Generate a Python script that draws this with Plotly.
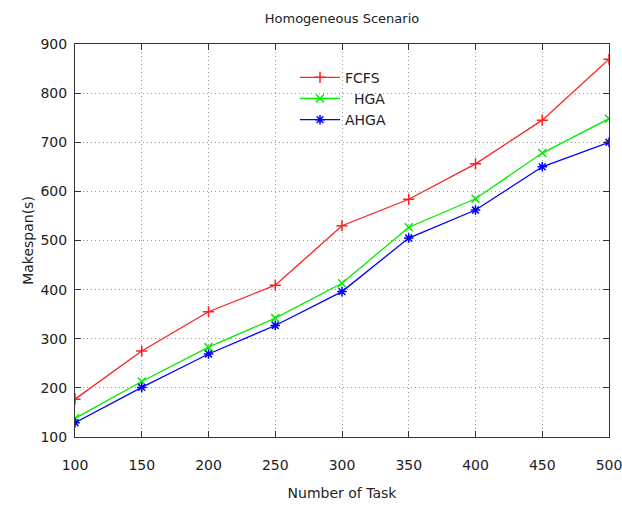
import plotly.graph_objects as go

tasks = [100, 150, 200, 250, 300, 350, 400, 450, 500]
fcfs = [177, 275, 355, 409, 530, 584, 656, 745, 869]
hga = [138, 213, 283, 342, 413, 527, 585, 678, 748]
ahga = [129, 201, 269, 327, 396, 505, 562, 650, 700]

font_family = "DejaVu Sans"

fig = go.Figure()
fig.add_trace(go.Scatter(x=tasks, y=fcfs, name="FCFS", mode="lines+markers",
                         line=dict(color="#ff2020", width=1.3),
                         marker=dict(symbol="cross-thin", size=8, line=dict(color="#ff2020", width=1.5))))
fig.add_trace(go.Scatter(x=tasks, y=hga, name="  HGA", mode="lines+markers",
                         line=dict(color="#00ee00", width=1.3),
                         marker=dict(symbol="x-thin", size=8, line=dict(color="#00ee00", width=1.5))))
fig.add_trace(go.Scatter(x=tasks, y=ahga, name="AHGA", mode="lines+markers",
                         line=dict(color="#0000ff", width=1.3),
                         marker=dict(symbol="asterisk-open", size=8, line=dict(color="#0000ff", width=1.5))))

axis_common = dict(showline=True, linecolor="#333333", linewidth=1, mirror="ticks",
                   ticks="inside", ticklen=6, tickcolor="#333333", automargin=False,
                   ticklabeloverflow="allow",
                   showgrid=True, gridcolor="#999999", griddash="1px,3px", gridwidth=1,
                   zeroline=False, tickfont=dict(family=font_family, size=14, color="#222222"))

fig.update_layout(
    width=622, height=506,
    margin=dict(l=75, r=13, t=44, b=69),
    paper_bgcolor="white", plot_bgcolor="white",
    title=dict(text="Homogeneous Scenario", x=(75 + 534 / 2) / 622, xanchor="center",
               y=1 - 18 / 506, yanchor="middle", automargin=False,
               font=dict(family=font_family, size=13, color="#222222")),
    xaxis=dict(range=[100, 500], tickvals=tasks, ticklabelstandoff=15,
               title=dict(text="Number of Task", standoff=16,
                          font=dict(family=font_family, size=14, color="#222222")),
               **axis_common),
    yaxis=dict(range=[100, 900], dtick=100, ticklabelstandoff=4,
               title=dict(text="Makespan(s)", standoff=3,
                          font=dict(family=font_family, size=14, color="#222222")),
               **axis_common),
    legend=dict(x=0.412, y=0.955, xanchor="left", yanchor="top", bgcolor="rgba(0,0,0,0)",
                font=dict(family=font_family, size=14, color="#222222"),
                tracegroupgap=0, itemwidth=40),
    showlegend=True,
)

fig.write_html("out.html", config={"displayModeBar": False},
               post_script="document.body.style.margin='0';document.body.style.overflow='hidden';")
